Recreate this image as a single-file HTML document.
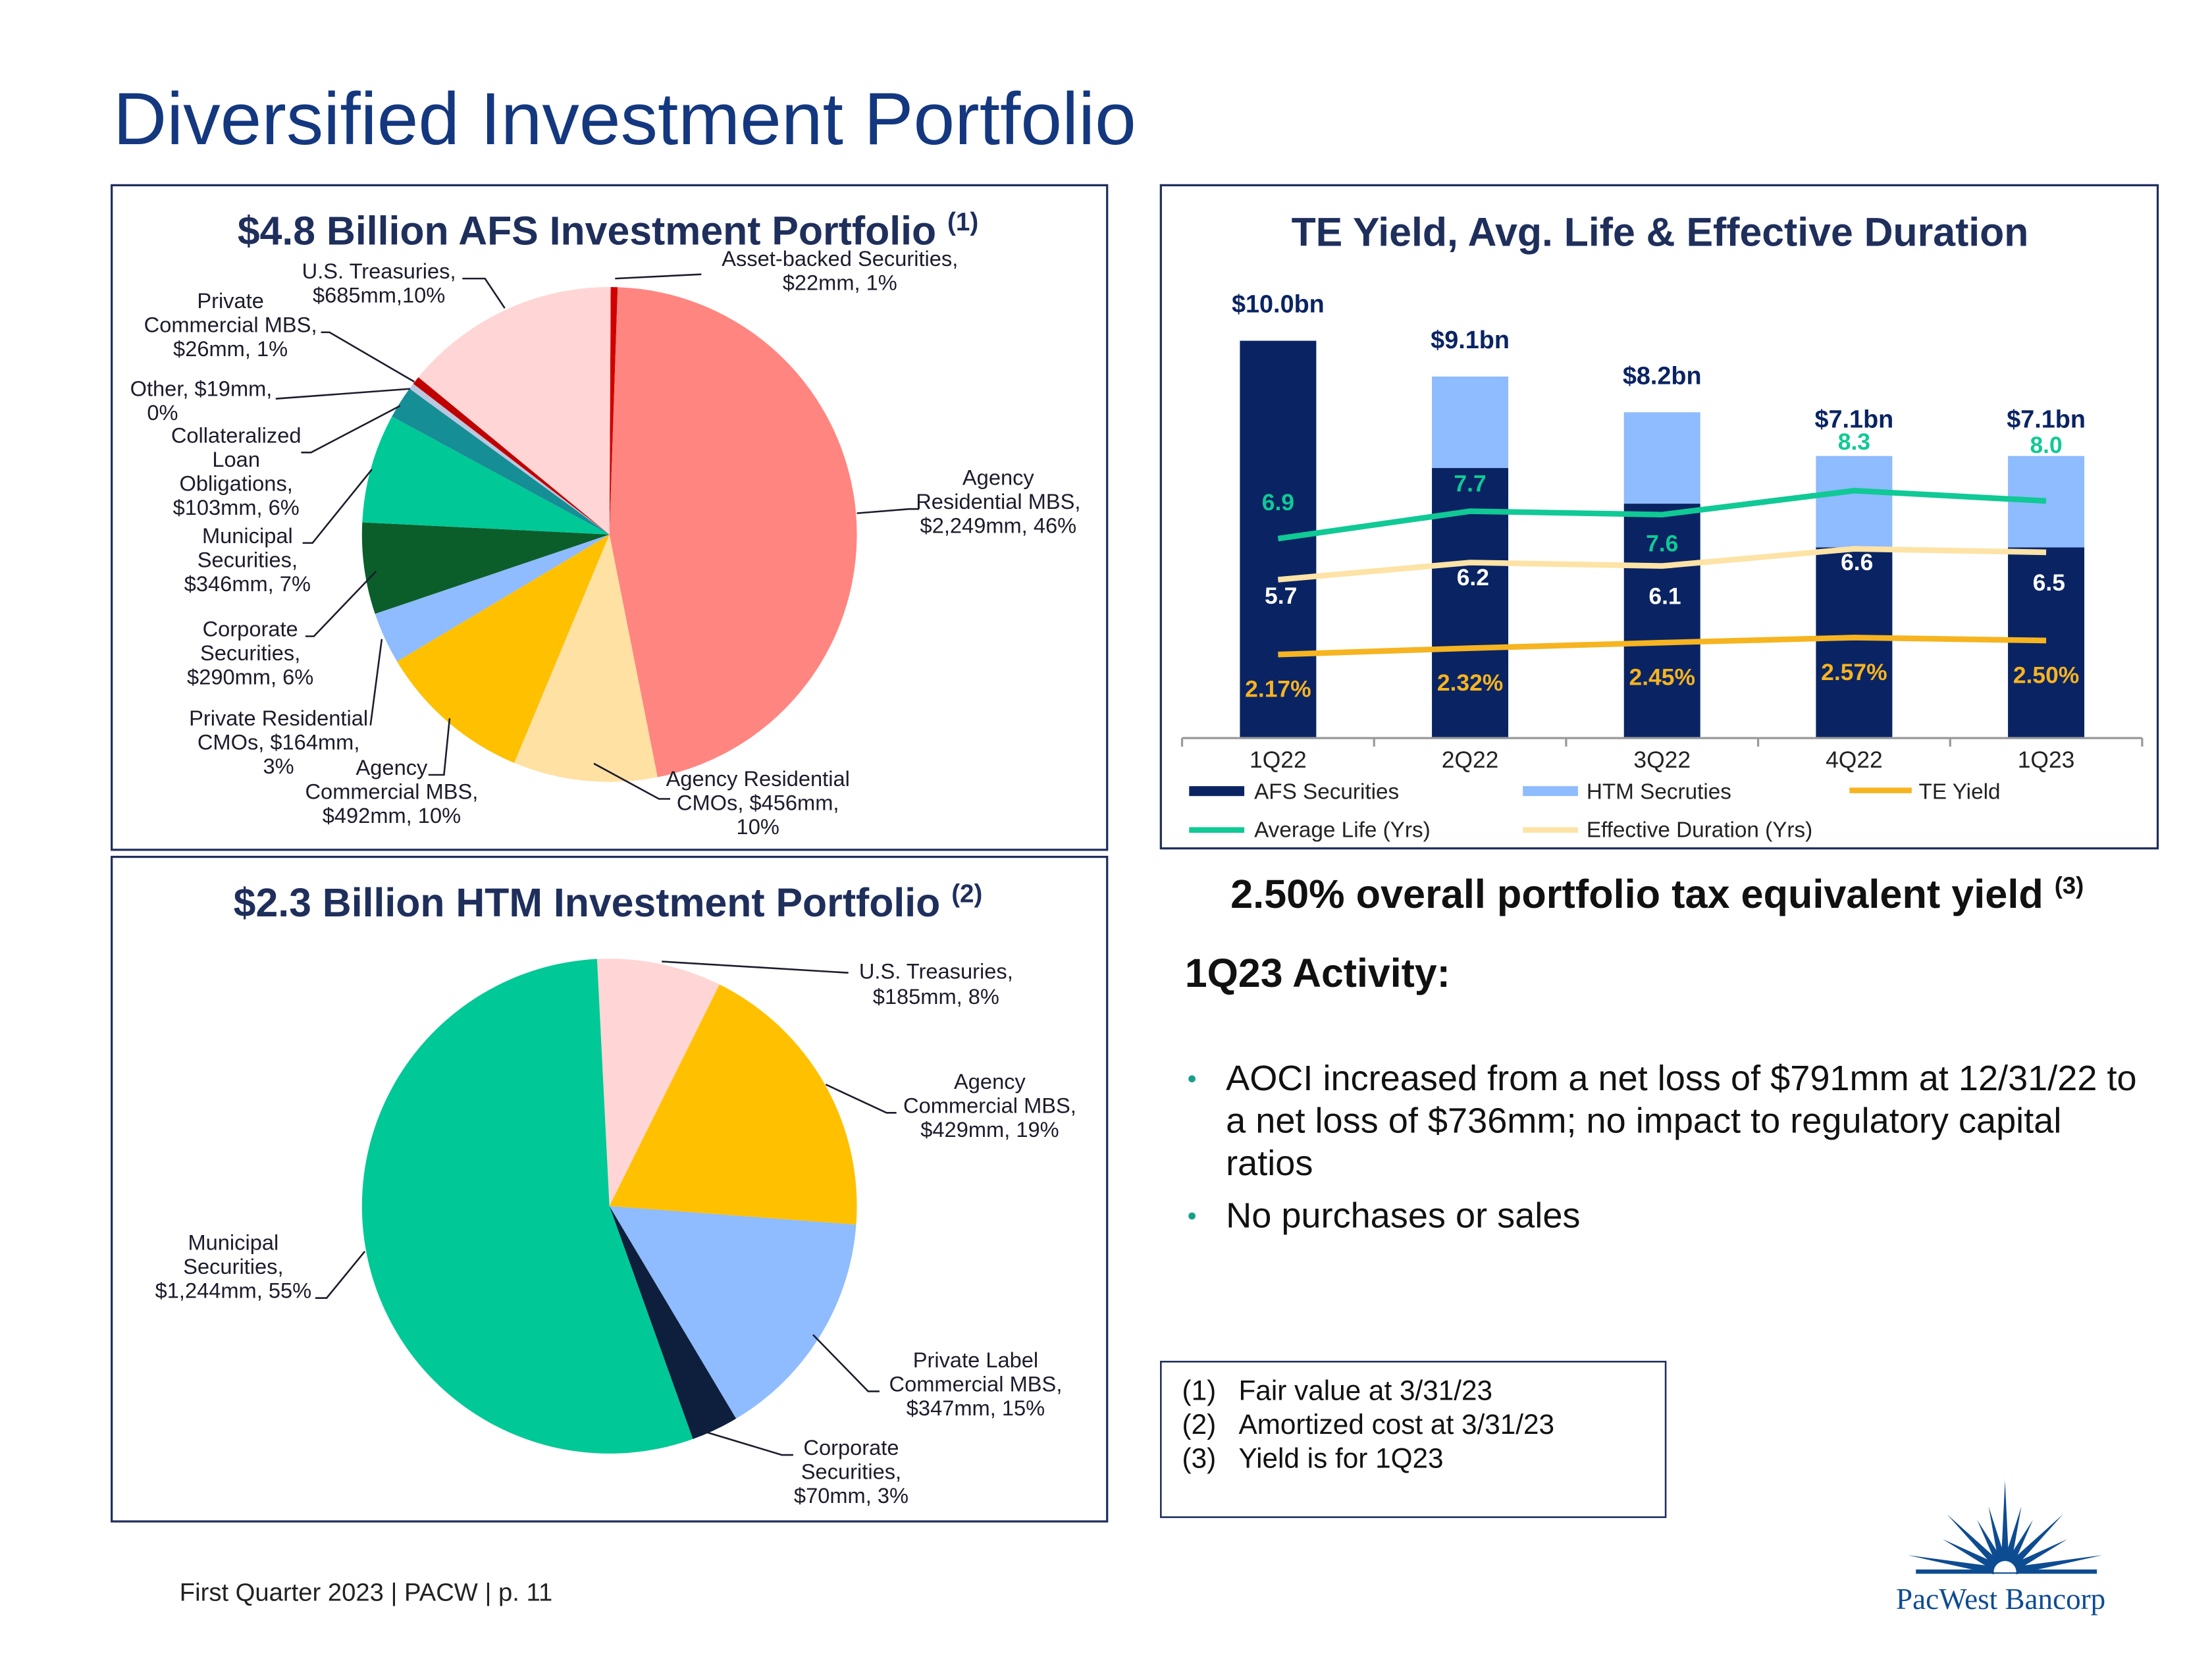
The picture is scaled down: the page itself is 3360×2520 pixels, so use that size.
<!DOCTYPE html>
<html><head><meta charset="utf-8">
<style>
html,body{margin:0;padding:0;background:#fff;}
svg{display:block;font-family:"Liberation Sans",Arial,sans-serif;}
.lbl{font-size:15.2px;fill:#1c1c2c;}
.ttl{font-size:28.3px;font-weight:bold;fill:#1F2F5C;}
</style></head>
<body>
<svg id="root" width="3360" height="2520" viewBox="0 0 1564.4 1173.3" xmlns="http://www.w3.org/2000/svg">
<text x="80" y="102" font-size="52.5" fill="#14387F">Diversified Investment Portfolio</text>

<rect x="79" y="131" width="704" height="470" fill="none" stroke="#1F2F5C" stroke-width="1.5"/>
<rect x="79" y="606" width="704" height="470" fill="none" stroke="#1F2F5C" stroke-width="1.5"/>
<rect x="821" y="131" width="705" height="469" fill="none" stroke="#1F2F5C" stroke-width="1.5"/>
<rect x="821" y="963" width="357" height="110" fill="none" stroke="#1F2F5C" stroke-width="1.2"/>

<text x="430" y="173" text-anchor="middle" class="ttl">$4.8 Billion AFS Investment Portfolio <tspan font-size="18" dy="-10">(1)</tspan></text>
<text x="430" y="648" text-anchor="middle" class="ttl">$2.3 Billion HTM Investment Portfolio <tspan font-size="18" dy="-10">(2)</tspan></text>
<text x="1174" y="174" text-anchor="middle" class="ttl">TE Yield, Avg. Life &amp; Effective Duration</text>

<g id="afsPie"></g>
<g id="htmPie"></g>

<g fill="none" stroke="#1c1c2c" stroke-width="1.2">
<polyline points="327,197 343,197 357,218"/>
<polyline points="227,235 233,235 293,270"/>
<polyline points="195,282 290,275"/>
<polyline points="213,320 220,320 283,287"/>
<polyline points="214,384 221,384 263,332"/>
<polyline points="216,450 222,450 266,404"/>
<polyline points="262,513 270,452"/>
<polyline points="303,548 314,548 318,508"/>
<polyline points="474,565 466,565 420,540"/>
<polyline points="650,360 643,360 606,363"/>
<polyline points="496,194 435,197"/>
<polyline points="600,688 468,680"/>
<polyline points="634,787 627,787 584,767"/>
<polyline points="622,984 614,984 575,944"/>
<polyline points="561,1029 553,1029 500,1013"/>
<polyline points="223,918 231,918 258,885"/>
</g>

<g class="lbl" text-anchor="middle">
<text x="268" y="197">U.S. Treasuries,</text><text x="268" y="214">$685mm,10%</text>
<text x="163" y="218">Private</text><text x="163" y="235">Commercial MBS,</text><text x="163" y="252">$26mm, 1%</text>
<text x="92" y="280" text-anchor="start">Other, $19mm,</text><text x="104" y="297" text-anchor="start">0%</text>
<text x="167" y="313">Collateralized</text><text x="167" y="330">Loan</text><text x="167" y="347">Obligations,</text><text x="167" y="364">$103mm, 6%</text>
<text x="175" y="384">Municipal</text><text x="175" y="401">Securities,</text><text x="175" y="418">$346mm, 7%</text>
<text x="177" y="450">Corporate</text><text x="177" y="467">Securities,</text><text x="177" y="484">$290mm, 6%</text>
<text x="197" y="513">Private Residential</text><text x="197" y="530">CMOs, $164mm,</text><text x="197" y="547">3%</text>
<text x="277" y="548">Agency</text><text x="277" y="565">Commercial MBS,</text><text x="277" y="582">$492mm, 10%</text>
<text x="536" y="556">Agency Residential</text><text x="536" y="573">CMOs, $456mm,</text><text x="536" y="590">10%</text>
<text x="706" y="343">Agency</text><text x="706" y="360">Residential MBS,</text><text x="706" y="377">$2,249mm, 46%</text>
<text x="594" y="188">Asset-backed Securities,</text><text x="594" y="205">$22mm, 1%</text>
</g>
<g class="lbl" text-anchor="middle">
<text x="662" y="692">U.S. Treasuries,</text><text x="662" y="710">$185mm, 8%</text>
<text x="700" y="770">Agency</text><text x="700" y="787">Commercial MBS,</text><text x="700" y="804">$429mm, 19%</text>
<text x="690" y="967">Private Label</text><text x="690" y="984">Commercial MBS,</text><text x="690" y="1001">$347mm, 15%</text>
<text x="602" y="1029">Corporate</text><text x="602" y="1046">Securities,</text><text x="602" y="1063">$70mm, 3%</text>
<text x="165" y="884">Municipal</text><text x="165" y="901">Securities,</text><text x="165" y="918">$1,244mm, 55%</text>
</g>

<g id="barChart"></g>

<g font-size="15.5" fill="#222">
<rect x="841" y="556" width="39" height="7" fill="#0A2463"/>
<text x="887" y="565">AFS Securities</text>
<rect x="1077" y="556" width="39" height="7" fill="#8FBBFF"/>
<text x="1122" y="565">HTM Secruties</text>
<line x1="1308" y1="559" x2="1352" y2="559" stroke="#F6B420" stroke-width="4"/>
<text x="1357" y="565">TE Yield</text>
<line x1="841" y1="587" x2="880" y2="587" stroke="#10C995" stroke-width="4"/>
<text x="887" y="592">Average Life (Yrs)</text>
<line x1="1077" y1="587" x2="1116" y2="587" stroke="#FDE3A6" stroke-width="4"/>
<text x="1122" y="592">Effective Duration (Yrs)</text>
</g>

<text x="1172" y="642" text-anchor="middle" font-size="28.5" font-weight="bold" fill="#111">2.50% overall portfolio tax equivalent yield <tspan font-size="17" dy="-10">(3)</tspan></text>
<text x="838" y="698" font-size="28.3" font-weight="bold" fill="#111">1Q23 Activity:</text>
<g font-size="25.2" fill="#111">
<circle cx="843" cy="763" r="2.5" fill="#16A089"/>
<text x="867" y="771">AOCI increased from a net loss of $791mm at 12/31/22 to</text>
<text x="867" y="801">a net loss of $736mm; no impact to regulatory capital</text>
<text x="867" y="831">ratios</text>
<circle cx="843" cy="860" r="2.5" fill="#16A089"/>
<text x="867" y="868">No purchases or sales</text>
</g>
<g font-size="19.7" fill="#111">
<text x="836" y="990">(1)</text><text x="876" y="990">Fair value at 3/31/23</text>
<text x="836" y="1014">(2)</text><text x="876" y="1014">Amortized cost at 3/31/23</text>
<text x="836" y="1038">(3)</text><text x="876" y="1038">Yield is for 1Q23</text>
</g>
<text x="127" y="1132" font-size="17.8" fill="#222">First Quarter 2023 | PACW | p. 11</text>
<g id="logo">
<text x="1415" y="1138" text-anchor="middle" font-family="Liberation Serif,serif" font-size="21" fill="#0E4C92">PacWest Bancorp</text>
</g>
</svg>
<script>
const NS="http://www.w3.org/2000/svg";
function mk(tag,attrs,parent){const e=document.createElementNS(NS,tag);for(const k in attrs)e.setAttribute(k,attrs[k]);parent.appendChild(e);return e;}

// AFS pie data
const afsNames=["asset-backed","agency-res-mbs","agency-res-cmos","agency-cmbs","private-res-cmos","corporate","municipal","clo","other","private-cmbs","treasuries"];
const afsValues=[22,2249,456,492,164,290,346,103,19,26,685];
const afsColors=["#D00000","#FF8580","#FFE1A3","#FFC000","#8FBBFF","#0B5E2A","#00C896","#168E96","#B8C8E0","#C00000","#FFD5D5"];
// HTM pie data
const htmNames=["treasuries","agency-cmbs","private-label-cmbs","corporate","municipal"];
const htmValues=[185,429,347,70,1244];
const htmColors=["#FFD5D5","#FFC000","#8FBBFF","#0D1F3C","#00C896"];

function pie(g,names,vals,cols,cx,cy,r,start){
  const tot=vals.reduce((a,b)=>a+b,0);let a=start;
  vals.forEach((v,i)=>{
    const s=a, e=a+v/tot*Math.PI*2; a=e;
    const x1=cx+r*Math.sin(s),y1=cy-r*Math.cos(s),x2=cx+r*Math.sin(e),y2=cy-r*Math.cos(e);
    const large=(e-s)>Math.PI?1:0;
    const p=mk("path",{d:`M${cx},${cy}L${x1},${y1}A${r},${r} 0 ${large} 1 ${x2},${y2}Z`,fill:cols[i]},g);
    
    
  });
}
pie(document.getElementById("afsPie"),afsNames,afsValues,afsColors,431,378,175,0.005);
pie(document.getElementById("htmPie"),htmNames,htmValues,htmColors,431,853,175,-0.05);

// Bar chart data
const quarters=["1Q22","2Q22","3Q22","4Q22","1Q23"];
const afsBn=[10.0,6.8,5.9,4.8,4.8];
const htmBn=[0,2.3,2.3,2.3,2.3];
const totalLabels=["$10.0bn","$9.1bn","$8.2bn","$7.1bn","$7.1bn"];
const avgLife=[6.9,7.7,7.6,8.3,8.0];
const effDuration=[5.7,6.2,6.1,6.6,6.5];
const teYield=[2.17,2.32,2.45,2.57,2.50];

const g=document.getElementById("barChart");
const x0=836,x1=1515,base=522,bw=54;
const band=(x1-x0)/quarters.length;
const xc=i=>x0+band*(i+0.5);
const yBn=v=>base-v*28.1;
const yYrs=v=>base-(v-1.07)*24.2;
const yPct=v=>base-(v-0.2)*30;
const lifeDy=[-20,-14,26,-29,-34];
const durDy=[17,16,27,15,27];

quarters.forEach((q,i)=>{
  const a=mk("rect",{x:xc(i)-bw/2,y:yBn(afsBn[i]),width:bw,height:base-yBn(afsBn[i]),fill:"#0A2463"},g);
  
  
  if(htmBn[i]>0){
    const h=mk("rect",{x:xc(i)-bw/2,y:yBn(afsBn[i]+htmBn[i]),width:bw,height:yBn(afsBn[i])-yBn(afsBn[i]+htmBn[i]),fill:"#8FBBFF"},g);
    
    
  }
  const t=mk("text",{x:xc(i),y:yBn(afsBn[i]+htmBn[i])-20,"text-anchor":"middle","font-size":"17.6","font-weight":"bold",fill:"#0A2463"},g);
  t.textContent=totalLabels[i];
  
  
  const c=mk("text",{x:xc(i),y:543,"text-anchor":"middle","font-size":"16.5",fill:"#222"},g);
  c.textContent=q;
  
  
});
const ax=mk("line",{x1:x0,y1:base,x2:x1,y2:base,stroke:"#999","stroke-width":"1.5"},g);


for(let k=0;k<=quarters.length;k++){
  const tk=mk("line",{x1:x0+band*k,y1:base,x2:x0+band*k,y2:base+6,stroke:"#999","stroke-width":"1.5"},g);
  
  
}
function line(vals,sc,col,name){
  const p=mk("polyline",{points:vals.map((v,i)=>xc(i)+","+sc(v)).join(" "),fill:"none",stroke:col,"stroke-width":"4"},g);
  
  
}
line(effDuration,yYrs,"#FDE3A6","line-effective-duration");
line(avgLife,yYrs,"#10C995","line-average-life");
line(teYield,yPct,"#F6B420","line-te-yield");
quarters.forEach((q,i)=>{
  const l=mk("text",{x:xc(i),y:yYrs(avgLife[i])+lifeDy[i],"text-anchor":"middle","font-size":"16.5","font-weight":"bold",fill:"#10C995"},g);
  l.textContent=avgLife[i].toFixed(1);
  
  
  const d=mk("text",{x:xc(i)+2,y:yYrs(effDuration[i])+durDy[i],"text-anchor":"middle","font-size":"16.5","font-weight":"bold",fill:"#FFFFFF"},g);
  d.textContent=effDuration[i].toFixed(1);
  
  
  const y=mk("text",{x:xc(i),y:yPct(teYield[i])+30,"text-anchor":"middle","font-size":"16.5","font-weight":"bold",fill:"#F6B420"},g);
  y.textContent=teYield[i].toFixed(2)+"%";
  
  
});

// logo sunburst
const lg=document.getElementById("logo");
const rayAngles=[-80,-62,-45,-28,-14,0,14,28,45,62,80];
const rayLens=[70,50,58,42,48,65,48,42,58,50,70];
rayAngles.forEach((deg,k)=>{
  const ang=deg*Math.PI/180, L=rayLens[k];
  const cx=1418,cy=1112;
  const p=mk("polygon",{points:`${cx+8*Math.sin(ang-0.35)},${cy-8*Math.cos(ang-0.35)} ${cx+L*Math.sin(ang)},${cy-L*Math.cos(ang)} ${cx+8*Math.sin(ang+0.35)},${cy-8*Math.cos(ang+0.35)}`,fill:"#0E4C92"},lg);
  
  
});
const hz=mk("rect",{x:1355,y:1110,width:128,height:3,fill:"#0E4C92"},lg);


const sun=mk("path",{d:"M1410,1112 A8,8 0 0 1 1426,1112 Z",fill:"#fff"},lg);


</script>
</body></html>
